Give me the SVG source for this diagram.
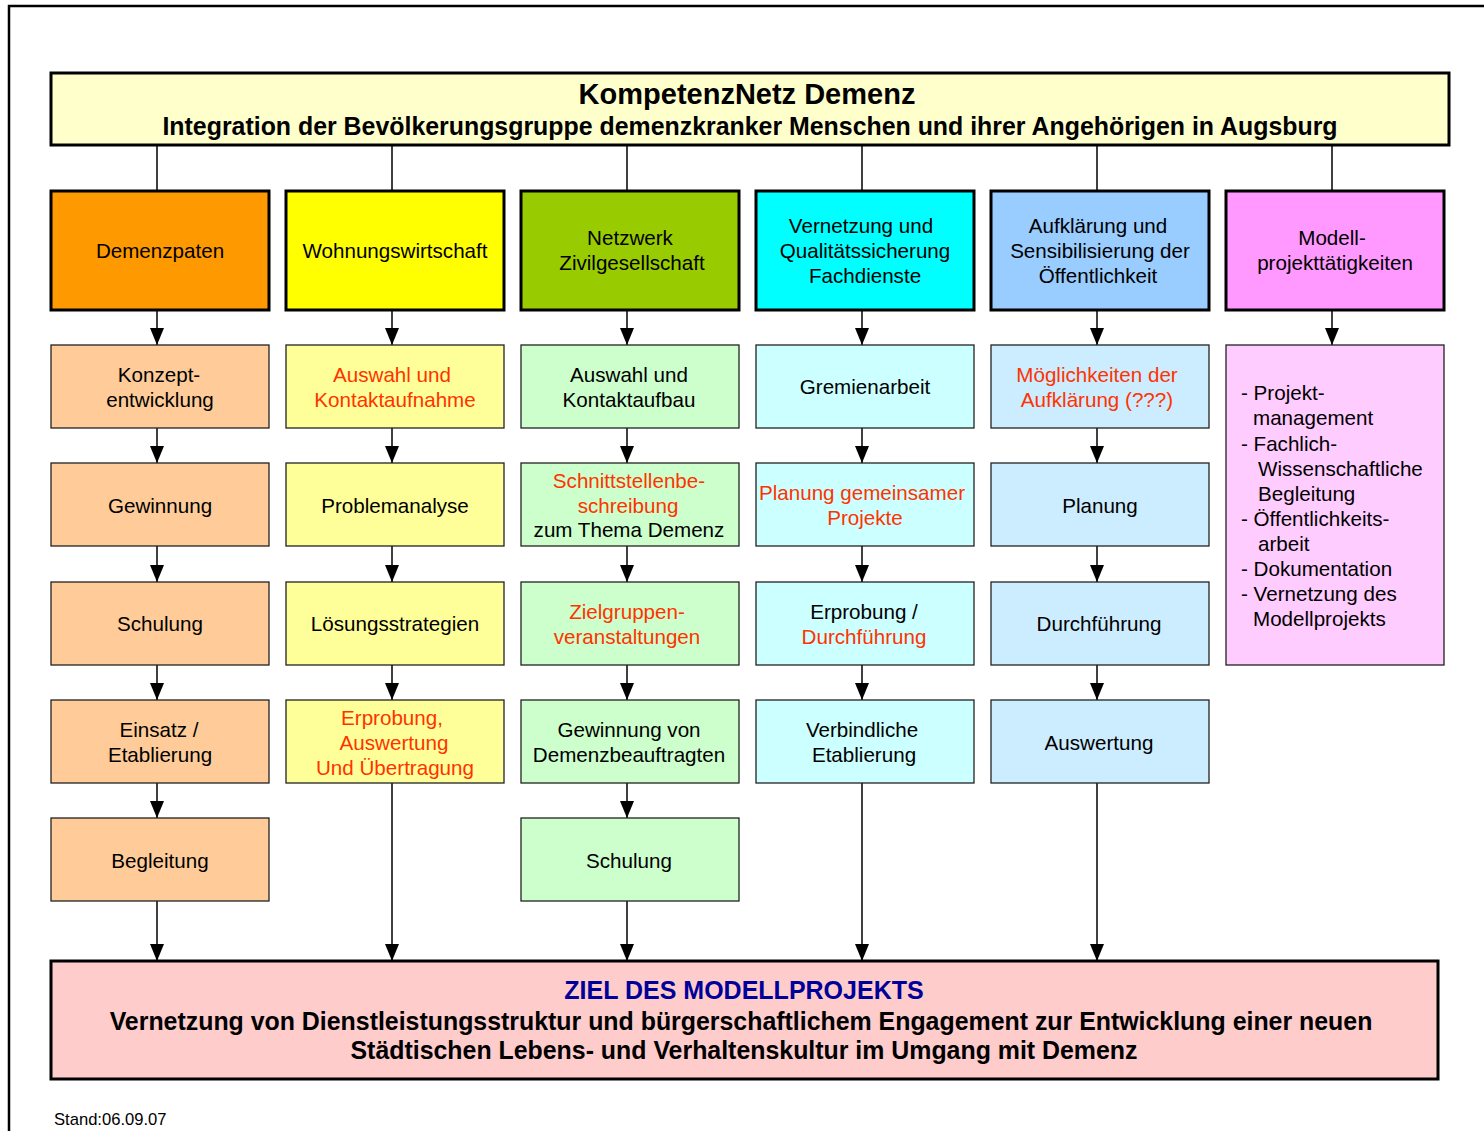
<svg xmlns="http://www.w3.org/2000/svg" width="1484" height="1131" viewBox="0 0 1484 1131">
<defs>
<marker id="ah" markerUnits="userSpaceOnUse" markerWidth="18" markerHeight="16" refX="17" refY="8" orient="auto" viewBox="0 0 18 16">
<path d="M0,1 L17,8 L0,15 Z" fill="#000"/>
</marker>
<style>
text{font-family:"Liberation Sans",Arial,sans-serif;font-size:20.6px;text-anchor:middle;fill:#000}
.b{font-weight:bold}
.r{fill:#FF3300}
.main{stroke:#000;stroke-width:3}
.sub{stroke:#222;stroke-width:1.3}
.c line{stroke:#000;stroke-width:1.5}
.l{text-anchor:start}
</style>
</defs>
<rect width="1484" height="1131" fill="#fff"/>
<path d="M9,1131 V6 H1484" fill="none" stroke="#000" stroke-width="2.5"/>

<g id="connectors" class="c">
<line x1="157" y1="145" x2="157" y2="191"/>
<line x1="392" y1="145" x2="392" y2="191"/>
<line x1="627" y1="145" x2="627" y2="191"/>
<line x1="862" y1="145" x2="862" y2="191"/>
<line x1="1097" y1="145" x2="1097" y2="191"/>
<line x1="1332" y1="145" x2="1332" y2="191"/>
<!-- col1 -->
<line x1="157" y1="310" x2="157" y2="345" marker-end="url(#ah)"/>
<line x1="157" y1="428" x2="157" y2="463" marker-end="url(#ah)"/>
<line x1="157" y1="546" x2="157" y2="582" marker-end="url(#ah)"/>
<line x1="157" y1="665" x2="157" y2="700" marker-end="url(#ah)"/>
<line x1="157" y1="783" x2="157" y2="818" marker-end="url(#ah)"/>
<line x1="157" y1="901" x2="157" y2="961" marker-end="url(#ah)"/>
<!-- col2 -->
<line x1="392" y1="310" x2="392" y2="345" marker-end="url(#ah)"/>
<line x1="392" y1="428" x2="392" y2="463" marker-end="url(#ah)"/>
<line x1="392" y1="546" x2="392" y2="582" marker-end="url(#ah)"/>
<line x1="392" y1="665" x2="392" y2="700" marker-end="url(#ah)"/>
<line x1="392" y1="783" x2="392" y2="961" marker-end="url(#ah)"/>
<!-- col3 -->
<line x1="627" y1="310" x2="627" y2="345" marker-end="url(#ah)"/>
<line x1="627" y1="428" x2="627" y2="463" marker-end="url(#ah)"/>
<line x1="627" y1="546" x2="627" y2="582" marker-end="url(#ah)"/>
<line x1="627" y1="665" x2="627" y2="700" marker-end="url(#ah)"/>
<line x1="627" y1="783" x2="627" y2="818" marker-end="url(#ah)"/>
<line x1="627" y1="901" x2="627" y2="961" marker-end="url(#ah)"/>
<!-- col4 -->
<line x1="862" y1="310" x2="862" y2="345" marker-end="url(#ah)"/>
<line x1="862" y1="428" x2="862" y2="463" marker-end="url(#ah)"/>
<line x1="862" y1="546" x2="862" y2="582" marker-end="url(#ah)"/>
<line x1="862" y1="665" x2="862" y2="700" marker-end="url(#ah)"/>
<line x1="862" y1="783" x2="862" y2="961" marker-end="url(#ah)"/>
<!-- col5 -->
<line x1="1097" y1="310" x2="1097" y2="345" marker-end="url(#ah)"/>
<line x1="1097" y1="428" x2="1097" y2="463" marker-end="url(#ah)"/>
<line x1="1097" y1="546" x2="1097" y2="582" marker-end="url(#ah)"/>
<line x1="1097" y1="665" x2="1097" y2="700" marker-end="url(#ah)"/>
<line x1="1097" y1="783" x2="1097" y2="961" marker-end="url(#ah)"/>
<!-- col6 -->
<line x1="1332" y1="310" x2="1332" y2="345" marker-end="url(#ah)"/>
</g>

<g id="header">
<rect x="51" y="73" width="1398" height="72" fill="#FFFFCC" class="main"/>
<text x="747" y="104" class="b" style="font-size:29px">KompetenzNetz Demenz</text>
<text x="750" y="135" class="b" style="font-size:24.9px">Integration der Bevölkerungsgruppe demenzkranker Menschen und ihrer Angehörigen in Augsburg</text>
</g>

<!-- top row -->
<g id="demenzpaten"><rect x="51" y="191" width="218" height="119" fill="#FF9900" class="main"/><text x="160" y="258">Demenzpaten</text></g>
<g id="wohnungswirtschaft"><rect x="286" y="191" width="218" height="119" fill="#FFFF00" class="main"/><text x="395" y="258">Wohnungswirtschaft</text></g>
<g id="netzwerk"><rect x="521" y="191" width="218" height="119" fill="#99CC00" class="main"/><text x="630" y="245">Netzwerk</text><text x="632" y="270">Zivilgesellschaft</text></g>
<g id="vernetzung"><rect x="756" y="191" width="218" height="119" fill="#00FFFF" class="main"/><text x="861" y="233">Vernetzung und</text><text x="865" y="258">Qualitätssicherung</text><text x="865" y="283">Fachdienste</text></g>
<g id="aufklaerung"><rect x="991" y="191" width="218" height="119" fill="#99CCFF" class="main"/><text x="1098" y="233">Aufklärung und</text><text x="1100" y="258">Sensibilisierung der</text><text x="1098" y="283">Öffentlichkeit</text></g>
<g id="modell"><rect x="1226" y="191" width="218" height="119" fill="#FF99FF" class="main"/><text x="1332" y="245">Modell-</text><text x="1335" y="270">projekttätigkeiten</text></g>

<!-- col1 -->
<g id="c1r1"><rect x="51" y="345" width="218" height="83" fill="#FFCC99" class="sub"/><text x="159" y="382">Konzept-</text><text x="160" y="407">entwicklung</text></g>
<g id="c1r2"><rect x="51" y="463" width="218" height="83" fill="#FFCC99" class="sub"/><text x="160" y="513">Gewinnung</text></g>
<g id="c1r3"><rect x="51" y="582" width="218" height="83" fill="#FFCC99" class="sub"/><text x="160" y="631">Schulung</text></g>
<g id="c1r4"><rect x="51" y="700" width="218" height="83" fill="#FFCC99" class="sub"/><text x="159" y="737">Einsatz /</text><text x="160" y="762">Etablierung</text></g>
<g id="c1r5"><rect x="51" y="818" width="218" height="83" fill="#FFCC99" class="sub"/><text x="160" y="868">Begleitung</text></g>

<!-- col2 -->
<g id="c2r1"><rect x="286" y="345" width="218" height="83" fill="#FFFF99" class="sub"/><text x="392" y="382" class="r">Auswahl und</text><text x="395" y="407" class="r">Kontaktaufnahme</text></g>
<g id="c2r2"><rect x="286" y="463" width="218" height="83" fill="#FFFF99" class="sub"/><text x="395" y="513">Problemanalyse</text></g>
<g id="c2r3"><rect x="286" y="582" width="218" height="83" fill="#FFFF99" class="sub"/><text x="395" y="631">Lösungsstrategien</text></g>
<g id="c2r4"><rect x="286" y="700" width="218" height="83" fill="#FFFF99" class="sub"/><text x="392" y="725" class="r">Erprobung,</text><text x="394" y="750" class="r">Auswertung</text><text x="395" y="775" class="r">Und Übertragung</text></g>

<!-- col3 -->
<g id="c3r1"><rect x="521" y="345" width="218" height="83" fill="#CCFFCC" class="sub"/><text x="629" y="382">Auswahl und</text><text x="629" y="407">Kontaktaufbau</text></g>
<g id="c3r2"><rect x="521" y="463" width="218" height="83" fill="#CCFFCC" class="sub"/><text x="629" y="488" class="r">Schnittstellenbe-</text><text x="628" y="513" class="r">schreibung</text><text x="629" y="537">zum Thema Demenz</text></g>
<g id="c3r3"><rect x="521" y="582" width="218" height="83" fill="#CCFFCC" class="sub"/><text x="627" y="619" class="r">Zielgruppen-</text><text x="627" y="644" class="r">veranstaltungen</text></g>
<g id="c3r4"><rect x="521" y="700" width="218" height="83" fill="#CCFFCC" class="sub"/><text x="629" y="737">Gewinnung von</text><text x="629" y="762">Demenzbeauftragten</text></g>
<g id="c3r5"><rect x="521" y="818" width="218" height="83" fill="#CCFFCC" class="sub"/><text x="629" y="868">Schulung</text></g>

<!-- col4 -->
<g id="c4r1"><rect x="756" y="345" width="218" height="83" fill="#CCFFFF" class="sub"/><text x="865" y="394">Gremienarbeit</text></g>
<g id="c4r2"><rect x="756" y="463" width="218" height="83" fill="#CCFFFF" class="sub"/><text x="862" y="500" class="r">Planung gemeinsamer</text><text x="865" y="525" class="r">Projekte</text></g>
<g id="c4r3"><rect x="756" y="582" width="218" height="83" fill="#CCFFFF" class="sub"/><text x="864" y="619">Erprobung /</text><text x="864" y="644" class="r">Durchführung</text></g>
<g id="c4r4"><rect x="756" y="700" width="218" height="83" fill="#CCFFFF" class="sub"/><text x="862" y="737">Verbindliche</text><text x="864" y="762">Etablierung</text></g>

<!-- col5 -->
<g id="c5r1"><rect x="991" y="345" width="218" height="83" fill="#CCECFF" class="sub"/><text x="1097" y="382" class="r">Möglichkeiten der</text><text x="1097" y="407" class="r">Aufklärung (???)</text></g>
<g id="c5r2"><rect x="991" y="463" width="218" height="83" fill="#CCECFF" class="sub"/><text x="1100" y="513">Planung</text></g>
<g id="c5r3"><rect x="991" y="582" width="218" height="83" fill="#CCECFF" class="sub"/><text x="1099" y="631">Durchführung</text></g>
<g id="c5r4"><rect x="991" y="700" width="218" height="83" fill="#CCECFF" class="sub"/><text x="1099" y="750">Auswertung</text></g>

<!-- col6 -->
<g id="c6r1"><rect x="1226" y="345" width="218" height="320" fill="#FFCCFF" class="sub"/>
<text class="l" x="1241" y="400">- Projekt-</text>
<text class="l" x="1253" y="425">management</text>
<text class="l" x="1241" y="451">- Fachlich-</text>
<text class="l" x="1258" y="476">Wissenschaftliche</text>
<text class="l" x="1258" y="501">Begleitung</text>
<text class="l" x="1241" y="526">- Öffentlichkeits-</text>
<text class="l" x="1258" y="551">arbeit</text>
<text class="l" x="1241" y="576">- Dokumentation</text>
<text class="l" x="1241" y="601">- Vernetzung des</text>
<text class="l" x="1253" y="626">Modellprojekts</text>
</g>

<g id="ziel">
<rect x="51" y="961" width="1387" height="118" fill="#FFCCCC" class="main"/>
<text x="744" y="999" class="b" style="font-size:25px;fill:#000099">ZIEL DES MODELLPROJEKTS</text>
<text x="741" y="1030" class="b" style="font-size:24.9px">Vernetzung von Dienstleistungsstruktur und bürgerschaftlichem Engagement zur Entwicklung einer neuen</text>
<text x="744" y="1059" class="b" style="font-size:24.9px">Städtischen Lebens- und Verhaltenskultur im Umgang mit Demenz</text>
</g>

<text x="54" y="1125" class="l" style="font-size:16.6px">Stand:06.09.07</text>
</svg>
